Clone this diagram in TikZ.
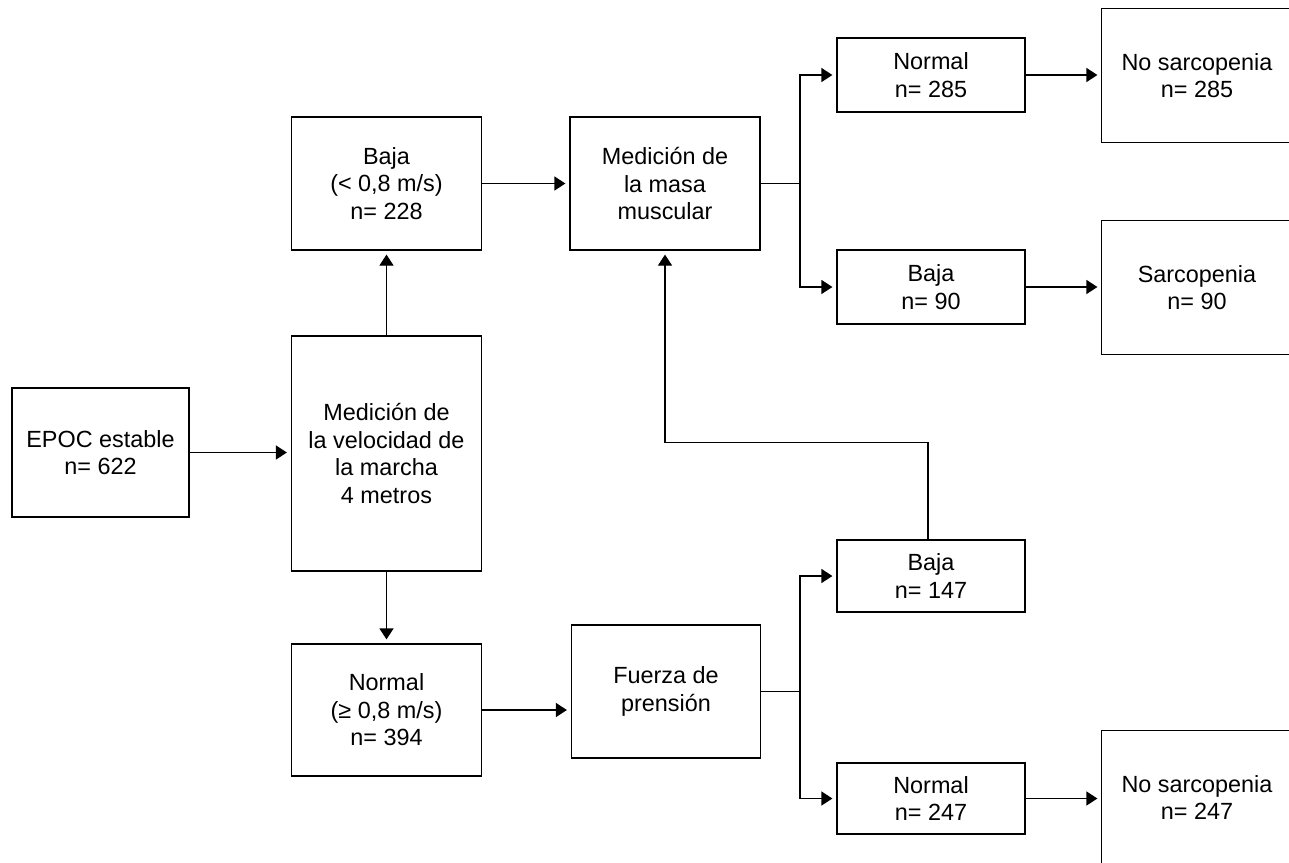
\documentclass[tikz,border=0pt]{standalone}
\usepackage{fontspec}
\setmainfont{Liberation Sans}
\usetikzlibrary{arrows.meta}

\tikzset{
  box/.style={draw, line width=1.2pt, align=center, inner sep=2pt,
    font=\fontsize{23.4}{27.5}\selectfont},
  openbox/.style={box, draw=none},
  arr/.style={line width=1.2pt, -{Triangle[length=11pt,width=14pt]}, shorten >=4pt},
  ln/.style={line width=1.2pt}
}

\begin{document}
\begin{tikzpicture}[x=1pt, y=-1pt]
  \useasboundingbox (0,0) rectangle (1289,862);
  \clip (0,0) rectangle (1289,862);

  % Start and gait speed
  \node[box, minimum width=177pt, minimum height=129pt] (epoc) at (100.5,452.5) {EPOC estable\\n= 622};
  \node[box, minimum width=190pt, minimum height=235pt] (vel) at (386.5,453.5) {Medición de\\la velocidad de\\la marcha\\4 metros};
  \node[box, minimum width=190pt, minimum height=133pt] (baja) at (386.5,183.5) {Baja\\(< 0,8 m/s)\\n= 228};
  \node[box, minimum width=190pt, minimum height=132pt] (normal) at (386.5,710) {Normal\\(≥ 0,8 m/s)\\n= 394};

  % Second measurements
  \node[box, minimum width=190pt, minimum height=133pt] (masa) at (665,183.5) {Medición de\\la masa\\muscular};
  \node[box, minimum width=189pt, minimum height=133pt] (fuerza) at (666,691.5) {Fuerza de\\prensión};

  % Results
  \node[box, minimum width=188pt, minimum height=74pt] (n285) at (931,75) {Normal\\n= 285};
  \node[box, minimum width=188pt, minimum height=74pt] (b90) at (931,287) {Baja\\n= 90};
  \node[box, minimum width=188pt, minimum height=72pt] (b147) at (931,576) {Baja\\n= 147};
  \node[box, minimum width=188pt, minimum height=71pt] (n247) at (931,798.5) {Normal\\n= 247};

  % Outcome (cut off at the right edge)
  \node[openbox, minimum width=190pt, minimum height=133pt] (ns285) at (1197,75.5) {No sarcopenia\\n= 285};
  \node[openbox, minimum width=190pt, minimum height=133pt] (s90) at (1197,287.5) {Sarcopenia\\n= 90};
  \node[openbox, minimum width=190pt, minimum height=133pt] (ns247) at (1197,797.5) {No sarcopenia\\n= 247};
  \foreach \o in {ns285, s90, ns247}
    \draw[ln] (\o.north west) rectangle ([xshift=30pt]\o.south east);

  % Split points
  \coordinate (msplit) at (800,183.5);
  \coordinate (fsplit) at (800,691.5);

  % Connections
  \draw[arr] (epoc.east) -- (vel.west |- epoc.east);
  \draw[arr] (vel.north) -- (baja.south);
  \draw[arr] (vel.south) -- (normal.north);
  \draw[arr] (baja.east) -- (masa.west);
  \draw[arr] (normal.east) -- (fuerza.west |- normal.east);
  \draw[ln] (masa.east) -- (msplit);
  \draw[arr] (msplit) |- (n285.west);
  \draw[arr] (msplit) |- (b90.west);
  \draw[ln] (fuerza.east) -- (fsplit);
  \draw[arr] (fsplit) |- (b147.west);
  \draw[arr] (fsplit) |- (n247.west);
  \draw[arr] ([xshift=-3pt]b147.north) -- ++(0,-97) -| (masa.south);
  \draw[arr] (n285.east) -- (ns285.west |- n285.east);
  \draw[arr] (b90.east) -- (s90.west |- b90.east);
  \draw[arr] (n247.east) -- (ns247.west |- n247.east);
\end{tikzpicture}
\end{document}
